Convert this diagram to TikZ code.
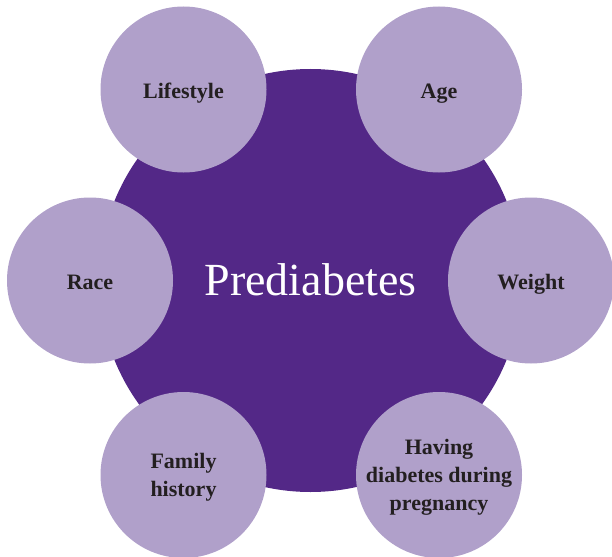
\documentclass[tikz,border=0pt]{standalone}
\usepackage{fontspec}
\setmainfont{Liberation Serif}
\definecolor{bigpurple}{HTML}{532887}
\definecolor{lightpurple}{HTML}{B0A0CA}
\definecolor{labeltext}{HTML}{231F20}
\begin{document}
\begin{tikzpicture}[x=1pt,y=-1pt,
  hub/.style={circle,fill=bigpurple,draw=none,minimum size=423pt,inner sep=0pt},
  factor/.style={circle,fill=lightpurple,draw=none,minimum size=166pt,inner sep=0pt},
  flabel/.style={text=labeltext,font=\fontsize{22}{28}\selectfont\bfseries,align=center},
  hublabel/.style={text=white,font=\fontsize{46}{50}\selectfont}
]
\useasboundingbox (0,0) rectangle (612,556);
\node[hub] (hub) at (310.5,280.5) {};
\node[factor] (lifestyle) at (183.5,89.5) {};
\node[factor] (age) at (439,89.5) {};
\node[factor] (race) at (90,280.5) {};
\node[factor] (weight) at (531,280.5) {};
\node[factor] (family) at (183.5,475) {};
\node[factor] (having) at (439,475) {};
\node[hublabel,anchor=base] (hubtext) at (310.5,295) {Prediabetes};
\node[flabel,anchor=base] (t1) at (183.5,98.5) {Lifestyle};
\node[flabel,anchor=base] (t2) at (439,98.5) {Age};
\node[flabel,anchor=base] (t3) at (90,289) {Race};
\node[flabel,anchor=base] (t4) at (531,289) {Weight};
\node[flabel] (t5) at (183.5,477) {Family\\history};
\node[flabel] (t6) at (439,477) {Having\\diabetes during\\pregnancy};
\end{tikzpicture}
\end{document}
